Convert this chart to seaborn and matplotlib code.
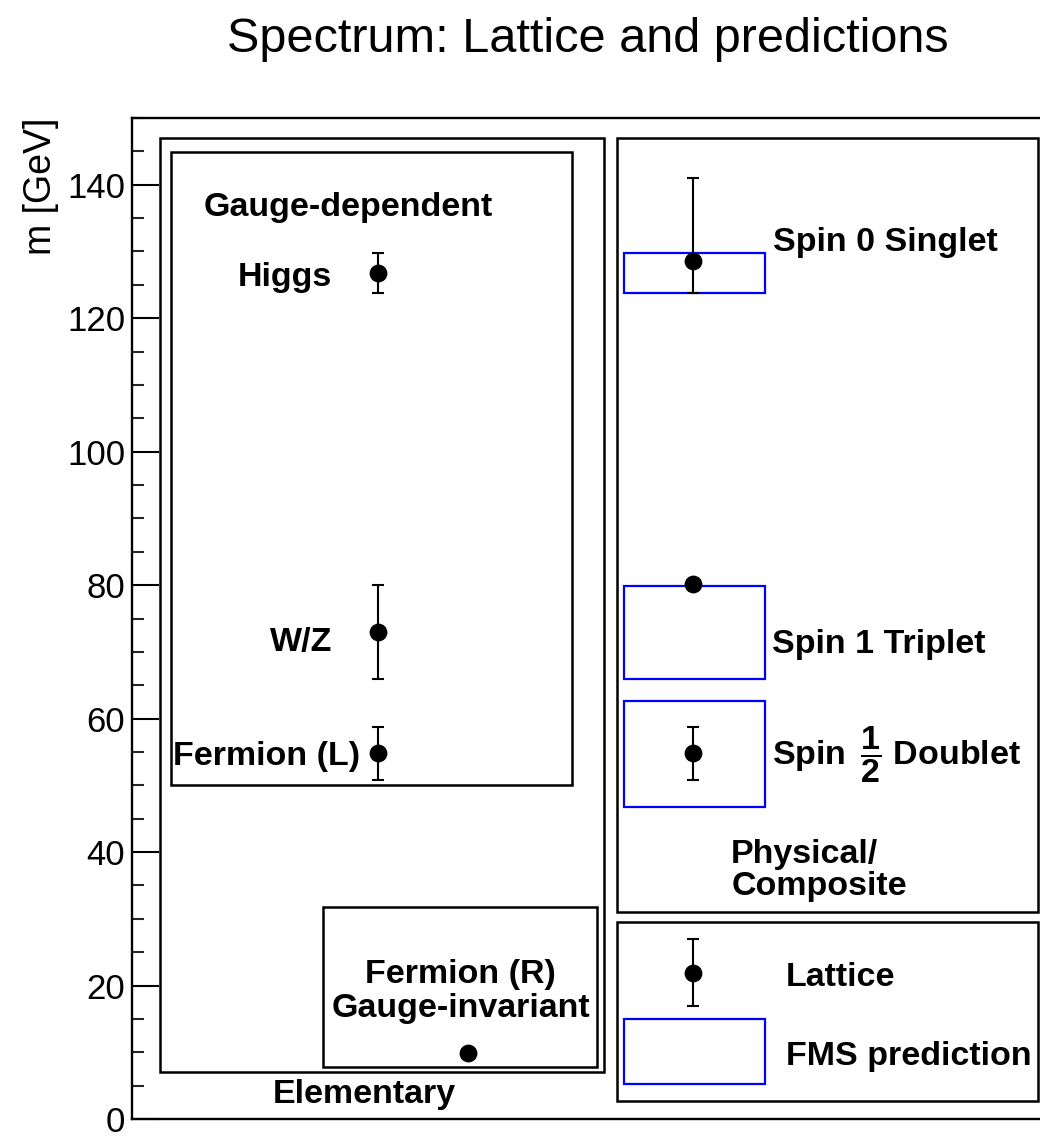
import numpy as np
import pandas as pd
import matplotlib
matplotlib.use("Agg")
import matplotlib.pyplot as plt
from matplotlib.patches import Rectangle
from matplotlib.ticker import MultipleLocator
import seaborn as sns

# Lattice masses (GeV) of the elementary, gauge-dependent states
elem_names = ["Higgs", "W/Z", "Fermion (L)", "Fermion (R)"]
elem_mass = [126.8, 73.0, 54.8, 9.9]
elem_err_lo = [3.0, 7.0, 4.0, 0.4]
elem_err_hi = [3.0, 7.0, 3.9, 0.4]
elem_xpos = [2.70, 2.70, 2.70, 3.68]

# Lattice masses (GeV) of the physical, composite states
comp_names = ["Spin 0 Singlet", "Spin 1 Triplet", "Spin 1/2 Doublet"]
comp_mass = [128.6, 80.2, 54.8]
comp_err_lo = [4.8, 0.4, 4.0]
comp_err_hi = [12.4, 0.4, 3.9]
comp_xpos = [6.15, 6.15, 6.15]

# FMS prediction bands for the composite states
fms_low = [123.8, 66.0, 46.7]
fms_high = [129.8, 79.8, 62.7]
fms_xpos = [6.17, 6.17, 6.17]
fms_width = 1.55

yticks = [0, 20, 40, 60, 80, 100, 120, 140]

sns.set_theme(style="ticks")
plt.rcParams["font.family"] = ["Liberation Sans", "DejaVu Sans"]
plt.rcParams["mathtext.fontset"] = "custom"
plt.rcParams["mathtext.rm"] = "Liberation Sans"
plt.rcParams["mathtext.bf"] = "Liberation Sans:bold"
plt.rcParams["axes.edgecolor"] = "black"

W, H = 1040, 1137
fig = plt.figure(figsize=(W / 100, H / 100), dpi=100)
fig.patch.set_facecolor("white")
ax = fig.add_axes([132 / W, 1 - 1119 / H, 912 / W, (1119 - 118) / H])
ax.set_facecolor("white")

df = pd.DataFrame({
    "name": elem_names + comp_names,
    "x": elem_xpos + comp_xpos,
    "mass": elem_mass + comp_mass,
    "lo": elem_err_lo + comp_err_lo,
    "hi": elem_err_hi + comp_err_hi,
})

# FMS prediction bands (open blue boxes)
fms = pd.DataFrame({"x": fms_xpos, "low": fms_low, "high": fms_high})
ax.bar(fms["x"], fms["high"] - fms["low"], bottom=fms["low"], width=fms_width,
       fill=False, edgecolor="#0000ff", linewidth=1.6, zorder=3)

# Lattice results with error bars
ax.errorbar(df["x"], df["mass"], yerr=[df["lo"], df["hi"]], fmt="none",
            ecolor="black", elinewidth=1.5, capsize=4.3, capthick=1.5, zorder=4)
sns.scatterplot(data=df, x="x", y="mass", color="black", s=165, marker="o",
                linewidth=0, zorder=5, legend=False, ax=ax)

ax.set_xlim(0, 10)
ax.set_ylim(0, 150)
ax.set_xlabel("")
ax.set_ylabel("")

# Grouping panels
def panel(x0, x1, y0, y1):
    ax.add_patch(Rectangle((x0, y0), x1 - x0, y1 - y0, fill=False,
                           edgecolor="black", linewidth=1.8, zorder=2))

panel(0.307, 5.175, 7.0, 147.0)    # Elementary
panel(0.428, 4.825, 50.0, 144.9)   # Gauge-dependent
panel(2.094, 5.099, 7.8, 31.7)     # Gauge-invariant
panel(5.318, 9.934, 31.0, 147.0)   # Physical/Composite
panel(5.318, 9.934, 2.7, 29.5)     # Key

# Key entries
ax.errorbar([6.15], [21.9], yerr=[[5.0], [5.0]], fmt="none", ecolor="black",
            elinewidth=1.5, capsize=4.3, capthick=1.5, zorder=4)
ax.scatter([6.15], [21.9], s=165, color="black", linewidth=0, zorder=5)
ax.add_patch(Rectangle((5.395, 5.2), 1.546, 9.8, fill=False,
                       edgecolor="#0000ff", linewidth=1.6, zorder=3))

lab = dict(fontsize=24.5, fontweight="bold", color="black", va="baseline")
ax.text(0.78, 135.3, "Gauge-dependent", ha="left", **lab)
ax.text(2.19, 124.9, "Higgs", ha="right", **lab)
ax.text(2.20, 70.1, "W/Z", ha="right", **lab)
ax.text(2.50, 53.1, "Fermion (L)", ha="right", **lab)
ax.text(3.60, 20.4, "Fermion (R)", ha="center", **lab)
ax.text(3.61, 15.3, "Gauge-invariant", ha="center", **lab)
ax.text(2.55, 2.4, "Elementary", ha="center", **lab)
ax.text(7.03, 130.1, "Spin 0 Singlet", ha="left", **lab)
ax.text(7.02, 69.9, "Spin 1 Triplet", ha="left", **lab)
ax.text(7.02, 53.1, r"Spin $\,\dfrac{\mathbf{1}}{\mathbf{2}}\;$Doublet", ha="left", **lab)
ax.text(6.57, 38.3, "Physical/", ha="left", **lab)
ax.text(6.57, 33.5, "Composite", ha="left", **lab)
ax.text(7.17, 19.9, "Lattice", ha="left", **lab)
ax.text(7.17, 8.1, "FMS prediction", ha="left", **lab)

# Axes styling
for side in ["left", "bottom", "top", "right"]:
    ax.spines[side].set_linewidth(1.7)
    ax.spines[side].set_color("black")
ax.set_xticks([])
ax.set_yticks(yticks)
ax.set_yticklabels([str(t) for t in yticks])
ax.yaxis.set_minor_locator(MultipleLocator(5))
ax.tick_params(axis="y", which="major", direction="in", length=19.5, width=1.5,
               labelsize=25, pad=5, left=True, right=False, colors="black")
ax.tick_params(axis="y", which="minor", direction="in", length=8.6, width=1.5,
               left=True, right=False)
ax.tick_params(axis="x", which="both", bottom=False, top=False)

fig.text(41 / W, 1 - 118 / H, "m [GeV]", rotation=90, ha="center", va="top",
         fontsize=27, color="black")
fig.text(588 / W, 1 - 52 / H, "Spectrum: Lattice and predictions", ha="center",
         va="baseline", fontsize=35, color="black")

fig.savefig("out.png", dpi=100, facecolor="white")
